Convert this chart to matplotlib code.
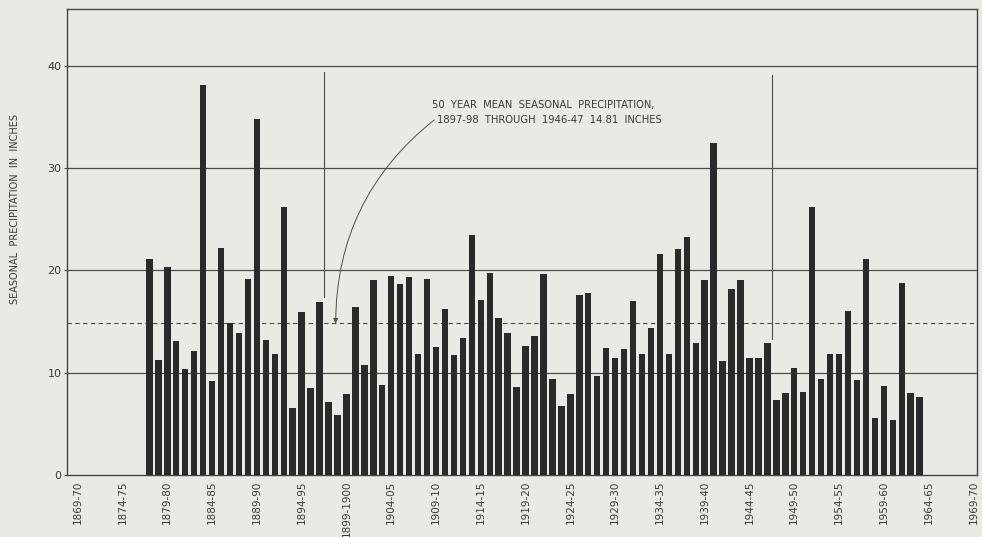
import matplotlib.pyplot as plt
import numpy as np

# Seasonal precipitation (inches), one value per season starting 1877-78
first_season = 1877
precip = [
    21.1, 11.2, 20.3, 13.1, 10.4, 12.1, 38.1, 9.2, 22.2, 14.9,
    13.9, 19.2, 34.8, 13.2, 11.8, 26.2, 6.5, 15.9, 8.5, 16.9,
    7.1, 5.9, 7.9, 16.4, 10.7, 19.1, 8.8, 19.4, 18.7, 19.3,
    11.8, 19.2, 12.5, 16.2, 11.7, 13.4, 23.5, 17.1, 19.7, 15.3,
    13.9, 8.6, 12.6, 13.6, 19.6, 9.4, 6.7, 7.9, 17.6, 17.8,
    9.7, 12.4, 11.4, 12.3, 17.0, 11.8, 14.4, 21.6, 11.8, 22.1,
    23.3, 12.9, 19.1, 32.4, 11.1, 18.2, 19.1, 11.4, 11.4, 12.9,
    7.3, 8.0, 10.5, 8.1, 26.2, 9.4, 11.8, 11.8, 16.0, 9.3,
    21.1, 5.6, 8.7, 5.4, 18.8, 8.0, 7.6,
]
mean_precip = 14.81
mean_start, mean_end = 1897, 1946

tick_seasons = [1869, 1874, 1879, 1884, 1889, 1894, 1899, 1904, 1909, 1914,
                1919, 1924, 1929, 1934, 1939, 1944, 1949, 1954, 1959, 1964, 1969]
tick_labels = ["1869-70", "1874-75", "1879-80", "1884-85", "1889-90", "1894-95",
               "1899-1900", "1904-05", "1909-10", "1914-15", "1919-20", "1924-25",
               "1929-30", "1934-35", "1939-40", "1944-45", "1949-50", "1954-55",
               "1959-60", "1964-65", "1969-70"]
y_ticks = [0, 10, 20, 30, 40]

paper = '#eaeae5'
ink = '#2a2a2a'
line_col = '#4d4d4d'
text_col = '#383838'

fig = plt.figure(figsize=(9.82, 5.37), dpi=100, facecolor=paper)
ax = fig.add_axes([0.0682, 0.1155, 0.9267, 0.867])
ax.set_facecolor(paper)

seasons = np.arange(first_season, first_season + len(precip))
ax.bar(seasons, precip, width=0.72, color=ink, zorder=3)

# horizontal grid and the 50-year mean
for y in y_ticks[1:]:
    ax.axhline(y, color=line_col, lw=0.9, zorder=1)
ax.axhline(mean_precip, color=line_col, lw=0.8, ls=(0, (4, 3)), zorder=2)

# brackets marking the averaging period
ax.plot([mean_start - 0.5] * 2, [17.4, 39.4], color=line_col, lw=0.8, zorder=2)
ax.plot([mean_end + 0.5] * 2, [13.3, 39.1], color=line_col, lw=0.8, zorder=2)

ax.text(1908.6, 36.2, "50  YEAR  MEAN  SEASONAL  PRECIPITATION,",
        fontsize=7.2, color=text_col, va='center', ha='left')
ax.text(1909.1, 34.7, "1897-98  THROUGH  1946-47  14.81  INCHES",
        fontsize=7.2, color=text_col, va='center', ha='left')
ax.annotate('', xy=(1897.8, mean_precip), xytext=(1908.8, 34.7),
            arrowprops=dict(arrowstyle='-|>', color=line_col, lw=0.7,
                            connectionstyle='arc3,rad=0.24', mutation_scale=7,
                            shrinkA=0, shrinkB=0))

ax.set_xlim(1867.8, 1969.4)
ax.set_ylim(0, 45.5)
ax.set_xticks(tick_seasons, tick_labels, rotation=90, fontsize=7.5, color=text_col)
ax.set_yticks(y_ticks, [str(v) for v in y_ticks], fontsize=8, color=text_col)
ax.tick_params(axis='x', length=0, pad=4)
ax.tick_params(axis='y', length=2, pad=2, color=line_col)
for spine in ax.spines.values():
    spine.set_color('#444444')
    spine.set_linewidth(1.0)

fig.text(0.0153, 1 - 209 / 537, "SEASONAL  PRECIPITATION  IN  INCHES",
         rotation=90, fontsize=7, color=text_col, va='center', ha='center')

fig.savefig('out.png', dpi=100, facecolor=paper)
